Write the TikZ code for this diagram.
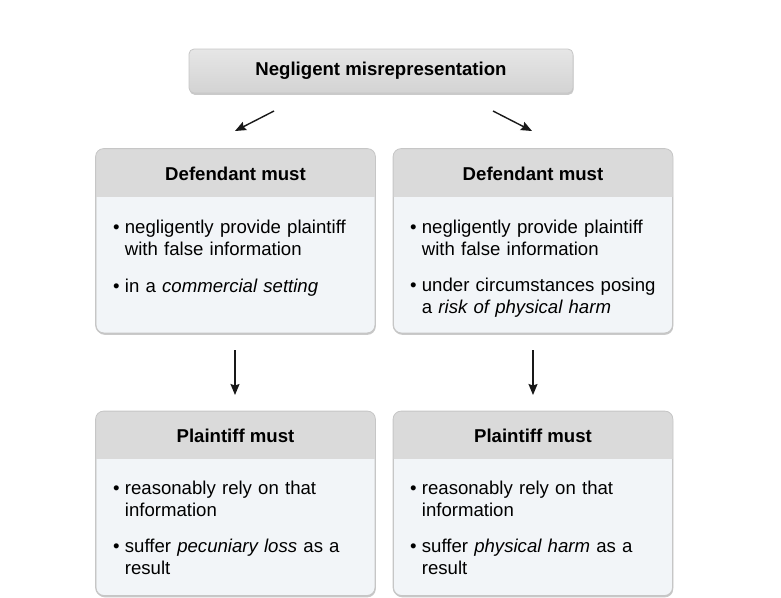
\documentclass[tikz,border=0pt]{standalone}
\usepackage{fontspec}
\setmainfont{Liberation Sans}
\usetikzlibrary{arrows.meta,shadows}
\definecolor{headgray}{HTML}{DADADA}
\definecolor{bodyfill}{HTML}{F2F5F8}
\definecolor{edgegray}{HTML}{C6C6C6}
\definecolor{toptop}{HTML}{E6E6E6}
\definecolor{topbot}{HTML}{D3D3D3}
\newcommand{\bl}{\makebox[11.7pt][l]{•}}
\newcommand{\ind}{\hspace*{11.7pt}}
\begin{document}
\begin{tikzpicture}[x=1pt,y=-1pt,
  cardbox/.style={draw=edgegray, line width=0.8pt, fill=bodyfill, rounded corners=8pt,
    minimum width=279pt, minimum height=184pt, inner sep=0pt,
    drop shadow={shadow xshift=0.6pt, shadow yshift=-1.8pt, opacity=0.35, fill=black!60}},
  topbox/.style={draw=edgegray, line width=0.8pt, top color=toptop, bottom color=topbot,
    rounded corners=5pt, minimum width=384pt, minimum height=44pt, inner sep=0pt,
    drop shadow={shadow xshift=0.6pt, shadow yshift=-1.8pt, opacity=0.35, fill=black!60},
    font=\fontsize{18.6}{22}\selectfont\bfseries},
  headtxt/.style={font=\fontsize{18.6}{22}\selectfont\bfseries, inner sep=0pt},
  itemtxt/.style={font=\fontsize{18.6}{22}\selectfont, anchor=north west, inner sep=0pt,
    align=left, text width=260pt},
  arr/.style={-{Stealth[length=11pt,width=9pt,inset=1.5pt]}, line width=1.4pt, black!90}
]
\useasboundingbox (0,0) rectangle (781,597);

% top box
\node[topbox] (top) at (381,71) {Negligent misrepresentation};

% cards
\node[cardbox] (d1) at (235.5,241) {};
\node[cardbox] (d2) at (533,241) {};
\node[cardbox] (p1) at (235.5,503.5) {};
\node[cardbox] (p2) at (533,503.5) {};

\foreach \c in {d1,d2,p1,p2}{
  \begin{scope}
    \clip[rounded corners=8pt] (\c.south west) rectangle (\c.north east);
    \fill[headgray] (\c.north west) rectangle ([yshift=-48pt]\c.north east);
  \end{scope}
  \draw[edgegray, line width=0.8pt, rounded corners=8pt] (\c.south west) rectangle (\c.north east);
}

% headers
\node[headtxt] (d1h) at ([yshift=-25pt]d1.north) {Defendant must};
\node[headtxt] (d2h) at ([yshift=-25pt]d2.north) {Defendant must};
\node[headtxt] (p1h) at ([yshift=-25pt]p1.north) {Plaintiff must};
\node[headtxt] (p2h) at ([yshift=-25pt]p2.north) {Plaintiff must};

% body texts
\node[itemtxt] (d1a) at (113,217.6) {\strut\bl negligently provide plaintiff\\\ind with false information};
\node[itemtxt] (d1b) at (113,276.6) {\strut\bl in a \textit{commercial setting}};

\node[itemtxt] (d2a) at (410,217.6) {\strut\bl negligently provide plaintiff\\\ind with false information};
\node[itemtxt] (d2b) at (410,275.6) {\strut\bl under circumstances posing\\\ind a \textit{risk of physical harm}};

\node[itemtxt] (p1a) at (113,478.6) {\strut\bl reasonably rely on that\\\ind information};
\node[itemtxt] (p1b) at (113,536.6) {\strut\bl suffer \textit{pecuniary loss} as a\\\ind result};

\node[itemtxt] (p2a) at (410,478.6) {\strut\bl reasonably rely on that\\\ind information};
\node[itemtxt] (p2b) at (410,536.6) {\strut\bl suffer \textit{physical harm} as a\\\ind result};

% arrows
\coordinate (a1s) at (274,111);
\coordinate (a1e) at (235,131);
\coordinate (a2s) at (493,111);
\coordinate (a2e) at (532,131);
\coordinate (a3s) at (235,350);
\coordinate (a3e) at (235,395);
\coordinate (a4s) at (533,350);
\coordinate (a4e) at (533,395);
\draw[arr] (a1s) -- (a1e);
\draw[arr] (a2s) -- (a2e);
\draw[arr] (a3s) -- (a3e);
\draw[arr] (a4s) -- (a4e);
\end{tikzpicture}
\end{document}
